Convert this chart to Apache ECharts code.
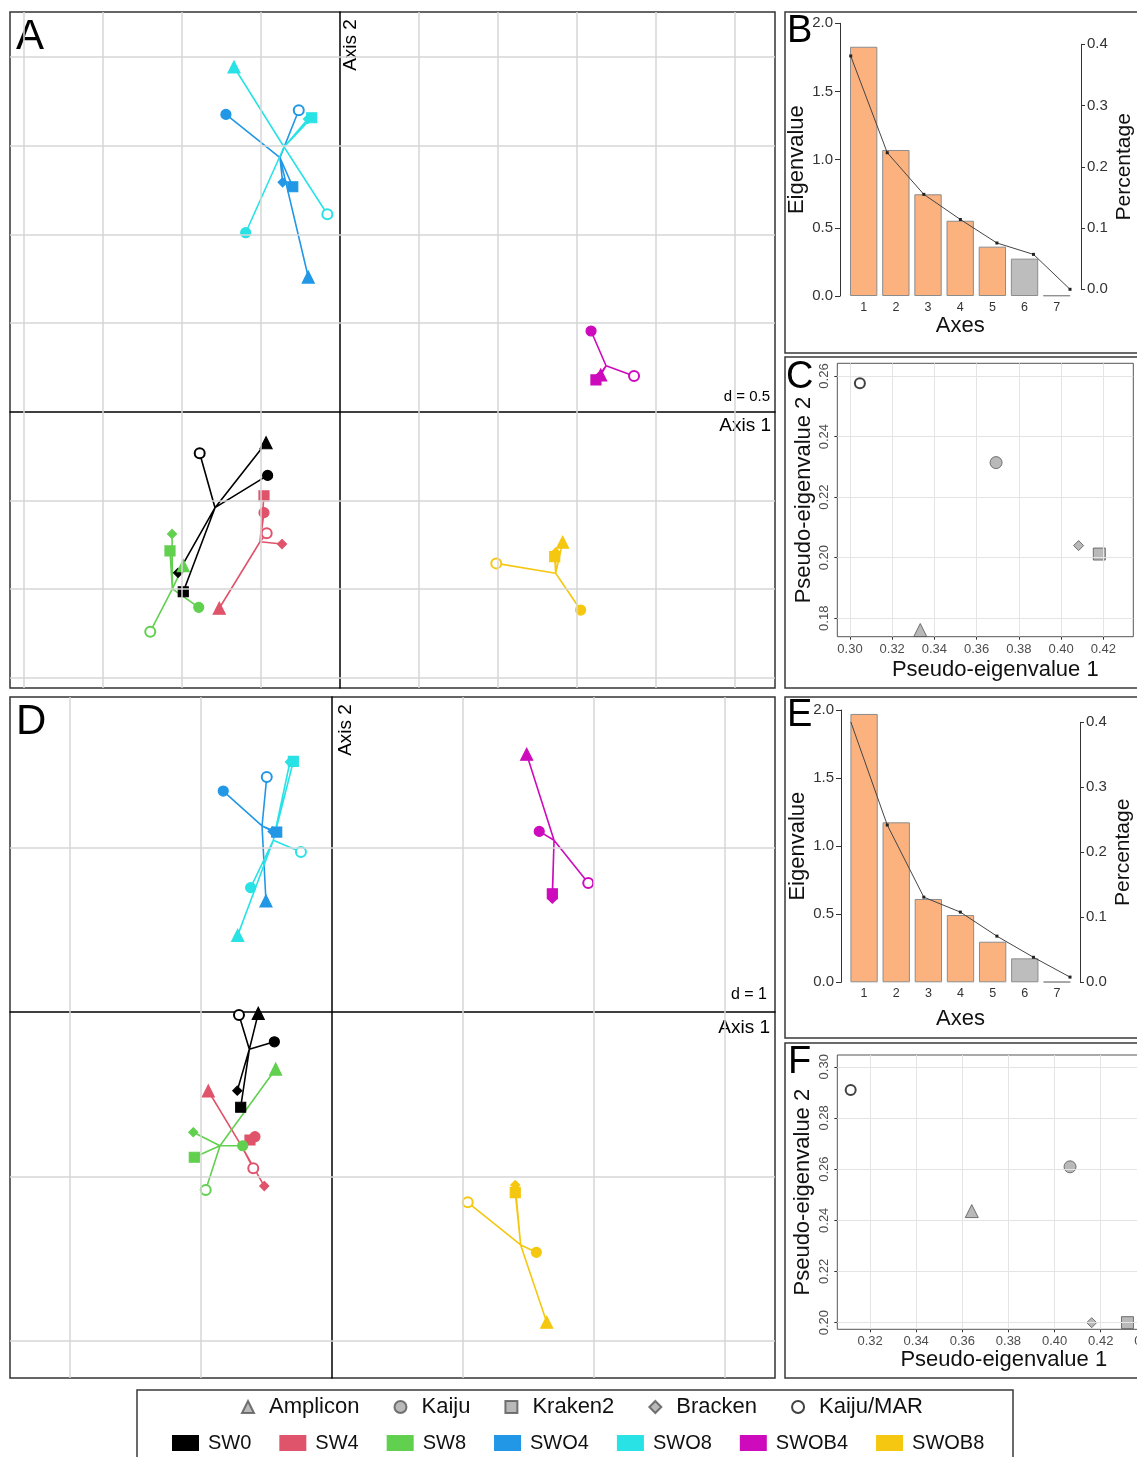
<!DOCTYPE html>
<html>
<head>
<meta charset="utf-8">
<title>Biplots, screeplots and pseudo-eigenvalues</title>
<script src="https://cdn.jsdelivr.net/npm/echarts@6.0.0/dist/echarts.min.js"></script>
<style>
  html, body { margin: 0; padding: 0; background: #fff; }
  #container { width: 1137px; height: 1457px; }
</style>
</head>
<body>
<div id="container"></div>
<script>
// ---------- data ----------
const methods = ['Amplicon', 'Kaiju', 'Kraken2', 'Bracken', 'Kaiju/MAR'];
const groups = ['SW0', 'SW4', 'SW8', 'SWO4', 'SWO8', 'SWOB4', 'SWOB8'];

// panel A (d = 0.5) - one row per group, points in the order of methods
const pointsA = [
  [[-0.468, -0.175], [-0.458, -0.359], [-0.992, -1.015], [-1.025, -0.908], [-0.888, -0.234]],
  [[-0.764, -1.108], [-0.481, -0.569], [-0.481, -0.475], [-0.367, -0.746], [-0.464, -0.685]],
  [[-0.992, -0.868], [-0.894, -1.103], [-1.076, -0.785], [-1.063, -0.689], [-1.201, -1.240]],
  [[-0.201, 0.759], [-0.722, 1.676], [-0.299, 1.268], [-0.363, 1.293], [-0.261, 1.699]],
  [[-0.671, 1.943], [-0.597, 1.009], [-0.179, 1.657], [-0.203, 1.650], [-0.080, 1.113]],
  [[1.650, 0.207], [1.589, 0.455], [1.620, 0.179], [1.635, 0.194], [1.861, 0.201]],
  [[1.409, -0.736], [1.523, -1.118], [1.359, -0.817], [1.365, -0.793], [0.989, -0.855]]
];
const centresA = [[-0.791, -0.541], [-0.506, -0.733], [-1.061, -0.999], [-0.380, 1.432],
  [-0.354, 1.492], [1.684, 0.259], [1.365, -0.911]];

// panel D (d = 1)
const pointsD = [
  [[-0.563, -0.008], [-0.440, -0.181], [-0.697, -0.579], [-0.723, -0.478], [-0.710, -0.018]],
  [[-0.944, -0.480], [-0.588, -0.758], [-0.626, -0.778], [-0.517, -1.058], [-0.601, -0.950]],
  [[-0.430, -0.347], [-0.682, -0.813], [-1.051, -0.883], [-1.059, -0.731], [-0.964, -1.082]],
  [[-0.504, 0.675], [-0.830, 1.343], [-0.422, 1.094], [-0.453, 1.098], [-0.498, 1.429]],
  [[-0.720, 0.466], [-0.621, 0.756], [-0.295, 1.524], [-0.321, 1.520], [-0.237, 0.973]],
  [[1.486, 1.567], [1.582, 1.098], [1.682, 0.719], [1.682, 0.689], [1.956, 0.784]],
  [[1.639, -1.886], [1.560, -1.461], [1.399, -1.098], [1.399, -1.052], [1.036, -1.157]]
];
const centresD = [[-0.631, -0.227], [-0.690, -0.815], [-0.855, -0.813], [-0.534, 1.131],
  [-0.448, 1.044], [1.695, 1.044], [1.440, -1.416]];

// grid steps of the two biplots
const gridAx = [-2, -1.5, -1, -0.5, 0.5, 1, 1.5, 2, 2.5];
const gridAy = [-1.5, -1, -0.5, 0.5, 1, 1.5, 2];
const gridDx = [-2, -1, 1, 2, 3];
const gridDy = [-2, -1, 1];

// screeplots B and E
const axisNumbers = ['1', '2', '3', '4', '5', '6', '7'];
const eigenB = [1.828, 1.071, 0.746, 0.552, 0.362, 0.274, 0.004];
const percentB = [0.381, 0.223, 0.155, 0.114, 0.0756, 0.057, 0.0];
const eigenE = [1.971, 1.175, 0.612, 0.494, 0.298, 0.176, 0.004];
const percentE = [0.401, 0.242, 0.131, 0.108, 0.071, 0.0385, 0.008];
const keptAxes = 5;

// pseudo-eigenvalues C and F, in the order of methods
const pseudoC = [[0.3333, 0.1761], [0.3692, 0.2314], [0.4181, 0.2012], [0.4083, 0.2040], [0.3047, 0.2576]];
const pseudoF = [[0.3641, 0.2436], [0.4067, 0.2609], [0.4316, 0.2000], [0.4161, 0.2000], [0.3116, 0.2909]];
const ticksCx = [0.30, 0.32, 0.34, 0.36, 0.38, 0.40, 0.42];
const ticksCy = [0.18, 0.20, 0.22, 0.24, 0.26];
const ticksFx = [0.32, 0.34, 0.36, 0.38, 0.40, 0.42, 0.44];
const ticksFy = [0.20, 0.22, 0.24, 0.26, 0.28, 0.30];

// ---------- styles ----------
const groupColors = ['#000000', '#DF536B', '#61D04F', '#2297E6', '#28E2E5', '#CD0BBC', '#F5C710'];
const methodSymbols = ['triangle', 'circle', 'rect', 'diamond', 'emptyCircle'];
const methodSizes = [12, 10, 10, 9, 10];
const pseudoSizes = [13, 12, 12, 10, 10];
const font = 'Liberation Sans';
const narrow = "'Liberation Sans Narrow', 'Liberation Sans'";

function gridLines(idx, xs, ys, color, width) {
  return {
    type: 'line', xAxisIndex: idx, yAxisIndex: idx, data: [], silent: true, z: 1,
    markLine: {
      silent: true, symbol: ['none', 'none'], label: { show: false },
      lineStyle: { color: color, width: width, type: 'solid' },
      emphasis: { disabled: true },
      data: xs.map(v => ({ xAxis: v })).concat(ys.map(v => ({ yAxis: v })))
    }
  };
}

// star of each group: centre -> point, back to the centre, next point ...
function starSeries(idx, pts, centres) {
  return groups.map((g, gi) => {
    const data = [];
    pts[gi].forEach((p, mi) => {
      data.push({ value: centres[gi], symbol: 'none' });
      data.push({ value: p, symbol: methodSymbols[mi], symbolSize: methodSizes[mi] });
    });
    return {
      name: g, type: 'line', xAxisIndex: idx, yAxisIndex: idx, data: data,
      color: groupColors[gi], showSymbol: true, silent: true, z: 3,
      lineStyle: { width: 1.6, color: groupColors[gi] },
      itemStyle: { color: groupColors[gi], borderColor: groupColors[gi], borderWidth: 1.2 },
      emphasis: { disabled: true }
    };
  });
}

function pseudoSeries(idx, pts) {
  return methods.map((m, mi) => ({
    name: m, type: 'scatter', xAxisIndex: idx, yAxisIndex: idx, data: [pts[mi]],
    symbol: methodSymbols[mi], symbolSize: pseudoSizes[mi], silent: true, z: 3,
    itemStyle: mi === 4
      ? { color: '#111', borderColor: '#111', borderWidth: 1.3 }
      : { color: '#A8A8A8', borderColor: '#555', borderWidth: 1 }
  }));
}

function barSeries(idx, values) {
  return {
    type: 'bar', xAxisIndex: idx, yAxisIndex: idx, barCategoryGap: '15%', silent: true,
    data: values.map((v, i) => ({
      value: v,
      itemStyle: { color: i < keptAxes ? '#FBB27E' : (i === keptAxes ? '#BDBDBD' : '#9a9a9a') }
    })),
    itemStyle: { borderColor: '#8c8c8c', borderWidth: 1 }
  };
}

function percentSeries(idx, values) {
  return {
    type: 'line', xAxisIndex: idx, yAxisIndex: idx, silent: true, z: 4,
    data: values.map((v, i) => [i + 1, v]),
    symbol: 'rect', symbolSize: 3, color: '#222',
    lineStyle: { color: '#444', width: 1 },
    itemStyle: { color: '#222' }
  };
}

// ---------- axes ----------
function biplotAxis(idx, min, max) {
  return {
    gridIndex: idx, type: 'value', min: min, max: max,
    axisLine: { show: true, onZero: true, lineStyle: { color: '#000', width: 1.5 } },
    axisTick: { show: false }, axisLabel: { show: false }, splitLine: { show: false }
  };
}
function hiddenAxis(idx, min, max) {
  return { gridIndex: idx, type: 'value', min: min, max: max, show: false, splitLine: { show: false } };
}
function categoryAxis(idx, gap) {
  return {
    gridIndex: idx, type: 'category', data: axisNumbers,
    axisLine: { show: false }, axisTick: { show: false },
    axisLabel: { interval: 0, fontSize: 12.5, color: '#333', margin: 5, fontFamily: narrow },
    name: 'Axes', nameLocation: 'middle', nameGap: gap,
    nameTextStyle: { fontSize: 22, color: '#111', fontFamily: font }
  };
}
function eigenAxis(idx, offset) {
  return {
    gridIndex: idx, type: 'value', min: 0, max: 2, interval: 0.5, offset: offset,
    axisLine: { show: true, lineStyle: { color: '#333', width: 1 } },
    axisTick: { show: true, length: 5, lineStyle: { color: '#333' } },
    axisLabel: { fontSize: 15, color: '#333', margin: 7, fontFamily: font, formatter: v => v.toFixed(1) },
    splitLine: { show: false },
    name: 'Eigenvalue', nameLocation: 'middle', nameGap: 32,
    nameTextStyle: { fontSize: 22, color: '#111', fontFamily: font }
  };
}
function percentAxis(idx, offset) {
  return {
    gridIndex: idx, type: 'value', position: 'right', min: 0, max: 0.4, interval: 0.1, offset: offset,
    axisLine: { show: true, lineStyle: { color: '#333', width: 1 } },
    axisTick: { show: true, length: 4, lineStyle: { color: '#333' } },
    axisLabel: { fontSize: 15, color: '#333', margin: 6, fontFamily: font, formatter: v => v.toFixed(1) },
    splitLine: { show: false },
    name: 'Percentage', nameLocation: 'middle', nameGap: 33,
    nameTextStyle: { fontSize: 21, color: '#111', fontFamily: font }
  };
}
function pseudoAxis(idx, min, max, ticks, name, gap, vertical) {
  return {
    gridIndex: idx, type: 'value', min: min, max: max,
    axisLine: { show: false, onZero: false },
    axisTick: { show: true, length: 3, customValues: ticks, lineStyle: { color: '#333' } },
    axisLabel: {
      customValues: ticks, formatter: v => v.toFixed(2), fontSize: 13, color: '#4d4d4d',
      margin: 6, fontFamily: font, rotate: vertical ? 90 : 0
    },
    splitLine: { show: false },
    name: name, nameLocation: 'middle', nameGap: gap,
    nameTextStyle: { fontSize: 22, color: '#111', fontFamily: font, padding: vertical ? 0 : [0, 0, 0, 20] }
  };
}

function label(text, x, y, size, align, rotate) {
  return {
    type: 'text', x: x, y: y, rotation: rotate ? Math.PI / 2 : 0, silent: true,
    style: { text: text, fontSize: size, fontFamily: font, fill: '#000', align: align || 'left', verticalAlign: 'middle' }
  };
}
function frame(x, y, w, h) {
  return {
    type: 'rect', silent: true, shape: { x: x, y: y, width: w, height: h },
    style: { fill: 'none', stroke: '#3a3a3a', lineWidth: 1.5 }
  };
}

const option = {
  animation: false,
  backgroundColor: '#fff',
  textStyle: { fontFamily: font },
  grid: [
    { left: 10, top: 12, width: 765, height: 676, show: true, borderColor: '#333', borderWidth: 1.5, backgroundColor: '#fff', outerBoundsMode: 'none' },
    { left: 10, top: 697, width: 765, height: 681, show: true, borderColor: '#333', borderWidth: 1.5, backgroundColor: '#fff', outerBoundsMode: 'none' },
    { left: 847.6, top: 23.3, width: 225.2, height: 272.7, outerBoundsMode: 'none' },
    { left: 847.6, top: 44.3, width: 225.2, height: 245, outerBoundsMode: 'none' },
    { left: 837.3, top: 363.3, width: 296, height: 273.4, show: true, borderColor: '#555', borderWidth: 1, backgroundColor: '#fff', outerBoundsMode: 'none' },
    { left: 848, top: 710, width: 225, height: 272.3, outerBoundsMode: 'none' },
    { left: 848, top: 722.3, width: 225, height: 260, outerBoundsMode: 'none' },
    { left: 837.3, top: 1055, width: 313, height: 274.3, show: true, borderColor: '#555', borderWidth: 1, backgroundColor: '#fff', outerBoundsMode: 'none' }
  ],
  xAxis: [
    biplotAxis(0, -2.0886, 2.7532),
    biplotAxis(1, -2.458, 3.3817),
    categoryAxis(2, 16),
    hiddenAxis(3, 0.915, 7.076),
    pseudoAxis(4, 0.294, 0.4342, ticksCx, 'Pseudo-eigenvalue 1', 22, false),
    categoryAxis(5, 26),
    hiddenAxis(6, 0.926, 7.082),
    pseudoAxis(7, 0.3058, 0.4415, ticksFx, 'Pseudo-eigenvalue 1', 15, false)
  ],
  yAxis: [
    biplotAxis(0, -1.5575, 2.2531),
    biplotAxis(1, -2.2249, 1.9149),
    eigenAxis(2, 7.6),
    percentAxis(3, 8.2),
    pseudoAxis(4, 0.1739, 0.2642, ticksCy, 'Pseudo-eigenvalue 2', 22, true),
    eigenAxis(5, 7),
    percentAxis(6, 7),
    pseudoAxis(7, 0.1974, 0.3046, ticksFy, 'Pseudo-eigenvalue 2', 23, true)
  ],
  legend: [
    {
      data: methods, left: 241, top: 1396, padding: 0, selectedMode: false,
      itemWidth: 12, itemHeight: 12, itemGap: 34,
      textStyle: { fontSize: 22, color: '#111', fontFamily: font, padding: [0, 0, 0, 10] }
    },
    {
      data: groups, left: 172, top: 1433, padding: 0, selectedMode: false, icon: 'rect',
      itemWidth: 25, itemHeight: 14, itemGap: 28,
      textStyle: { fontSize: 20, color: '#111', fontFamily: font, padding: [0, 0, 0, 5] }
    }
  ],
  graphic: [
    frame(785, 12, 360, 341),
    frame(785, 357, 360, 331),
    frame(785, 697, 360, 341),
    frame(785, 1043, 360, 335),
    frame(137, 1390, 876, 80),
    label('A', 16, 37, 42),
    label('B', 787, 32, 38),
    label('C', 786, 378, 38),
    label('D', 16, 722, 42),
    label('E', 787, 716, 38),
    label('F', 788, 1063, 38),
    label('Axis 2', 351, 45, 19, 'center', true),
    label('Axis 1', 771, 426, 19, 'right'),
    label('d = 0.5', 770, 397, 15, 'right'),
    label('Axis 2', 346, 730, 19, 'center', true),
    label('Axis 1', 770, 1028, 19, 'right'),
    label('d = 1', 767, 995, 16, 'right')
  ],
  series: [].concat(
    gridLines(0, gridAx, gridAy, '#d6d6d6', 1.5),
    gridLines(1, gridDx, gridDy, '#d6d6d6', 1.5),
    gridLines(4, ticksCx, ticksCy, '#e4e4e4', 1),
    gridLines(7, ticksFx, ticksFy, '#e4e4e4', 1),
    starSeries(0, pointsA, centresA),
    starSeries(1, pointsD, centresD),
    barSeries(2, eigenB),
    percentSeries(3, percentB),
    barSeries(5, eigenE),
    percentSeries(6, percentE),
    pseudoSeries(4, pseudoC),
    pseudoSeries(7, pseudoF)
  )
};

const myChart = echarts.init(document.getElementById('container'));
myChart.setOption(option);
</script>
</body>
</html>
